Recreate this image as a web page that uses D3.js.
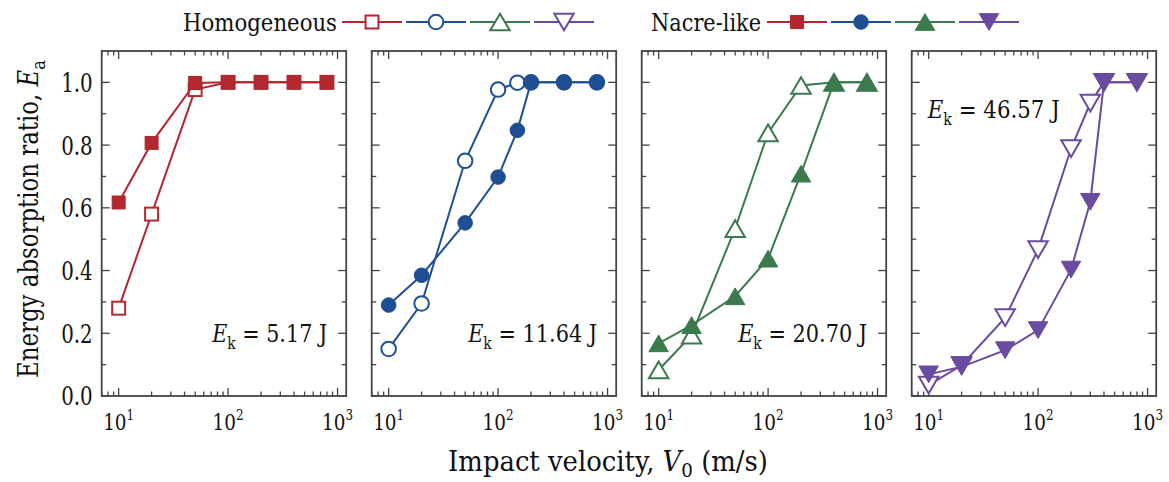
<!DOCTYPE html>
<html>
<head>
<meta charset="utf-8">
<script src="https://cdn.jsdelivr.net/npm/d3@7"></script>
<style>
  html, body { margin: 0; padding: 0; background: #fff; }
</style>
</head>
<body>
<svg id="chart" width="1169" height="482" font-family="DejaVu Serif"></svg>
<script>
// Impact velocities (m/s) for each panel
const velocityA = [10, 20, 50, 100, 200, 400, 800];
const velocityB = [10, 20, 50, 100, 150, 200, 400, 800];
const velocityC = [10, 20, 50, 100, 200, 400, 800];
const velocityD = [10, 20, 50, 100, 200, 300, 400, 800];

// Energy absorption ratio, homogeneous plates
const homogeneousA = [0.28, 0.58, 0.977, 1.0, 1.0, 1.0, 1.0];
const homogeneousB = [0.15, 0.295, 0.75, 0.977, 0.999, 1.0, 1.0, 1.0];
const homogeneousC = [0.083, 0.194, 0.534, 0.839, 0.99, 1.0, 1.0];
const homogeneousD = [0.035, 0.098, 0.25, 0.467, 0.789, 0.934, 1.0, 1.0];

// Energy absorption ratio, nacre-like plates
const nacreA = [0.617, 0.807, 0.998, 1.0, 1.0, 1.0, 1.0];
const nacreB = [0.29, 0.385, 0.552, 0.698, 0.847, 1.0, 1.0, 1.0];
const nacreC = [0.168, 0.226, 0.318, 0.438, 0.709, 1.0, 1.0];
const nacreD = [0.069, 0.093, 0.146, 0.21, 0.403, 0.619, 1.0, 1.0];

// Kinetic energy of the projectile per panel
const energyLabels = ["5.17 J", "11.64 J", "20.70 J", "46.57 J"];

const yTicks = [0.0, 0.2, 0.4, 0.6, 0.8, 1.0];
const xTickExponents = [1, 2, 3];

const colors = ["#b3272e", "#1e4f93", "#3a7a4d", "#6a4b9f"];
const shapes = ["square", "circle", "triangleUp", "triangleDown"];

const panels = [
  { x: velocityA, hom: homogeneousA, nac: nacreA },
  { x: velocityB, hom: homogeneousB, nac: nacreB },
  { x: velocityC, hom: homogeneousC, nac: nacreC },
  { x: velocityD, hom: homogeneousD, nac: nacreD }
];

const svg = d3.select("#chart");
const axisColor = "#444";
const textColor = "#111";

const plotTop = 51, plotBottom = 396;
const plotW = 244.5, firstLeft = 101.7, pitch = 270;

const y = d3.scaleLinear().domain([0, 1.1]).range([plotBottom, plotTop]);

// squeeze a label horizontally about its anchor so it spans the given width
function fitWidth(sel, width) {
  const node = sel.node();
  const w = node.getBBox().width;
  const sx = width / w;
  const ax = +sel.attr("x"), ay = +sel.attr("y");
  sel.attr("transform", `translate(${ax},${ay}) scale(${sx},1) translate(${-ax},${-ay})`);
}

function drawMarker(g, shape, cx, cy, color, filled, size) {
  const fill = filled ? color : "#fff";
  const s = size;
  if (shape === "square") {
    g.append("rect")
      .attr("x", cx - s * 0.48).attr("y", cy - s * 0.48)
      .attr("width", s * 0.96).attr("height", s * 0.96)
      .attr("fill", fill).attr("stroke", color).attr("stroke-width", filled ? 1 : 2);
  } else if (shape === "circle") {
    g.append("circle").attr("cx", cx).attr("cy", cy).attr("r", s * 0.54)
      .attr("fill", fill).attr("stroke", color).attr("stroke-width", filled ? 1 : 2);
  } else {
    const h = s * 0.62, w = s * 0.72;
    const dir = shape === "triangleUp" ? 1 : -1;
    const pts = [[cx, cy - dir * h], [cx - w, cy + dir * h], [cx + w, cy + dir * h]];
    g.append("path").attr("d", "M" + pts.map(p => p.join(",")).join("L") + "Z")
      .attr("fill", fill).attr("stroke", color).attr("stroke-width", filled ? 1 : 2)
      .attr("stroke-linejoin", "miter");
  }
}

panels.forEach((p, i) => {
  const left = firstLeft + i * pitch;
  const x = d3.scaleLog().domain([7, 1200]).range([left, left + plotW]);
  const g = svg.append("g");

  // minor and major ticks on all four sides, pointing inward
  const minorX = [];
  for (let e = 0; e <= 3; e++) {
    for (let m = 2; m <= 9; m++) {
      const v = m * Math.pow(10, e);
      if (v >= 7 && v <= 1200) minorX.push(v);
    }
  }
  const majorX = xTickExponents.map(e => Math.pow(10, e));
  const majorLen = 8, minorLen = 4.5;

  const tickG = g.append("g").attr("stroke", axisColor).attr("stroke-width", 1.3);
  majorX.forEach(v => {
    tickG.append("line").attr("x1", x(v)).attr("x2", x(v)).attr("y1", plotBottom).attr("y2", plotBottom - majorLen);
    tickG.append("line").attr("x1", x(v)).attr("x2", x(v)).attr("y1", plotTop).attr("y2", plotTop + majorLen);
  });
  minorX.forEach(v => {
    tickG.append("line").attr("x1", x(v)).attr("x2", x(v)).attr("y1", plotBottom).attr("y2", plotBottom - minorLen);
    tickG.append("line").attr("x1", x(v)).attr("x2", x(v)).attr("y1", plotTop).attr("y2", plotTop + minorLen);
  });
  d3.range(0, 11).forEach(k => {
    const v = k / 10;
    const len = k % 2 === 0 ? majorLen : minorLen;
    tickG.append("line").attr("x1", left).attr("x2", left + len).attr("y1", y(v)).attr("y2", y(v));
    tickG.append("line").attr("x1", left + plotW).attr("x2", left + plotW - len).attr("y1", y(v)).attr("y2", y(v));
  });

  // frame
  g.append("rect").attr("x", left).attr("y", plotTop)
    .attr("width", plotW).attr("height", plotBottom - plotTop)
    .attr("fill", "none").attr("stroke", axisColor).attr("stroke-width", 1.8);

  // x tick labels as powers of ten
  majorX.forEach((v, k) => {
    const t = g.append("text").attr("x", x(v)).attr("y", 430)
      .attr("text-anchor", "middle").attr("font-size", 23).attr("fill", textColor);
    t.append("tspan").text("10");
    t.append("tspan").attr("dy", -10).attr("font-size", 15).text(xTickExponents[k]);
    fitWidth(t, 31);
  });

  // y tick labels on the first panel only
  if (i === 0) {
    yTicks.forEach(v => {
      const t = g.append("text").attr("x", left - 9).attr("y", y(v) + 9.5)
        .attr("text-anchor", "end").attr("font-size", 26).attr("fill", textColor)
        .text(v.toFixed(1));
      fitWidth(t, 31.5);
    });
  }

  const line = d3.line().x(d => x(d[0])).y(d => y(d[1]));
  const color = colors[i];

  // homogeneous series (open markers), then nacre-like (filled) on top
  [[p.hom, false], [p.nac, true]].forEach(([vals, filled]) => {
    const pts = p.x.map((v, k) => [v, vals[k]]);
    g.append("path").datum(pts).attr("d", line)
      .attr("fill", "none").attr("stroke", color).attr("stroke-width", 2);
    pts.forEach(d => drawMarker(g, shapes[i], x(d[0]), y(d[1]), color, filled, 13.5));
  });

  // kinetic energy annotation
  const inLeft = i === 3;
  const ann = g.append("text")
    .attr("x", inLeft ? left + 16 : left + plotW - 19)
    .attr("y", inLeft ? 118 : 342)
    .attr("text-anchor", inLeft ? "start" : "end")
    .attr("font-size", 24).attr("fill", textColor);
  ann.append("tspan").attr("font-style", "italic").text("E");
  ann.append("tspan").attr("dy", 7).attr("font-size", 16).text("k");
  ann.append("tspan").attr("dy", -7).text(" = " + energyLabels[i]);
  fitWidth(ann, [116, 130, 130, 133][i]);
});

// axis titles
const yl = svg.append("text")
  .attr("x", 0).attr("y", 0)
  .attr("text-anchor", "middle").attr("font-size", 27).attr("fill", textColor);
yl.append("tspan").text("Energy absorption ratio, ");
yl.append("tspan").attr("font-style", "italic").text("E");
yl.append("tspan").attr("dy", 7).attr("font-size", 19).text("a");
{
  const sx = 318 / yl.node().getBBox().width;
  yl.attr("transform", `translate(38,219) rotate(-90) scale(${sx},1)`);
}

const xl = svg.append("text")
  .attr("x", 608).attr("y", 471)
  .attr("text-anchor", "middle").attr("font-size", 27).attr("fill", textColor);
xl.append("tspan").text("Impact velocity, ");
xl.append("tspan").attr("font-style", "italic").text("V");
xl.append("tspan").attr("dy", 6).attr("font-size", 19).text("0");
xl.append("tspan").attr("dy", -6).text(" (m/s)");
fitWidth(xl, 320);

// legend
const legendGroups = [
  { label: "Homogeneous", textEnd: 337, start: 342, filled: false, width: 154 },
  { label: "Nacre-like", textEnd: 761, start: 767, filled: true, width: 110 }
];
const legY = 22, handleLen = 60, handleStep = 64;
legendGroups.forEach(lg => {
  const t = svg.append("text").attr("x", lg.textEnd).attr("y", legY + 9)
    .attr("text-anchor", "end").attr("font-size", 25).attr("fill", textColor)
    .text(lg.label);
  fitWidth(t, lg.width);
  colors.forEach((c, k) => {
    const x0 = lg.start + k * handleStep;
    const lgG = svg.append("g");
    lgG.append("line").attr("x1", x0).attr("x2", x0 + handleLen)
      .attr("y1", legY).attr("y2", legY).attr("stroke", c).attr("stroke-width", 2.2);
    drawMarker(lgG, shapes[k], x0 + handleLen / 2, legY, c, lg.filled, 13.5);
  });
});
</script>
</body>
</html>
